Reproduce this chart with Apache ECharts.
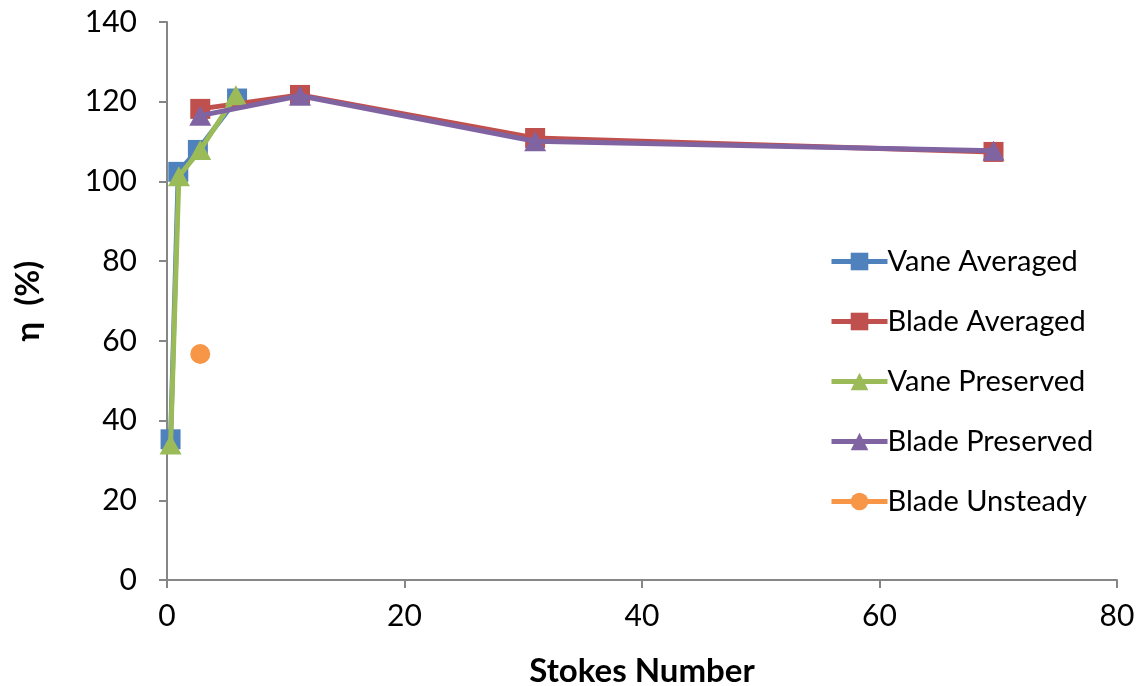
<!DOCTYPE html>
<html><head><meta charset="utf-8">
<script src="https://cdn.jsdelivr.net/npm/echarts@6/dist/echarts.min.js"></script>
<style>html,body{margin:0;padding:0;background:#fff}#c{width:1139px;height:686px}</style>
</head><body><div id="c"></div>
<script>
const seriesNames = ['Vane Averaged','Blade Averaged','Vane Preserved','Blade Preserved','Blade Unsteady'];
const vaneAveraged = [[0.3,35.3],[0.95,102.4],[2.6,107.9],[5.9,120.8]];
const bladeAveraged = [[2.8,118.2],[11.2,121.7],[31.0,110.9],[69.6,107.4]];
const vanePreserved = [[0.3,34.0],[1.0,101.3],[2.8,107.9],[5.8,121.6]];
const bladePreserved = [[2.8,116.5],[11.2,121.5],[31.0,110.1],[69.6,107.7]];
const bladeUnsteady = [[2.8,56.7]];
const colors = ['#4F81BD','#C0504D','#9BBB59','#8064A2','#F79646'];
const symbols = ['rect','rect','triangle','triangle','circle'];
const datasets = [vaneAveraged,bladeAveraged,vanePreserved,bladePreserved,bladeUnsteady];
const font = 'Lato, "Open Sans", sans-serif';
const chart = echarts.init(document.getElementById('c'));
chart.setOption({
  animation:false,
  backgroundColor:'#fff',
  color: colors,
  grid:{left:167,right:22,top:22,bottom:106,outerBoundsMode:'none',containLabel:false},
  legend:{
    orient:'vertical', left:824, top:242, itemGap:31, itemWidth:56, itemHeight:22,
    textStyle:{fontFamily:font,fontSize:29,color:'#000',padding:[0,0,0,-5]},
    lineStyle:{width:5},
    data: seriesNames
  },
  xAxis:{
    type:'value', min:0, max:80, interval:20,
    name:'Stokes Number', nameLocation:'middle', nameGap:75,
    nameTextStyle:{fontFamily:font,fontSize:33,fontWeight:'bold',color:'#000'},
    axisLine:{show:true,onZero:false,lineStyle:{color:'#868686',width:2}},
    axisTick:{show:true,length:8,lineStyle:{color:'#868686',width:2}},
    axisLabel:{fontFamily:font,fontSize:30,color:'#000',margin:21},
    splitLine:{show:false}
  },
  yAxis:{
    type:'value', min:0, max:140, interval:20,
    name:'η  (%)', nameLocation:'middle', nameGap:122, nameRotate:90,
    nameTextStyle:{fontFamily:font,fontSize:33,fontWeight:'bold',color:'#000'},
    axisLine:{show:true,lineStyle:{color:'#868686',width:2}},
    axisTick:{show:true,length:8,lineStyle:{color:'#868686',width:2}},
    axisLabel:{fontFamily:font,fontSize:30,color:'#000',margin:30},
    splitLine:{show:false}
  },
  series: datasets.map((d,i)=>({
    name: seriesNames[i], type:'line', data:d,
    symbol: symbols[i], symbolSize: symbols[i]==='triangle'?[22,20]:20,
    lineStyle:{width:5,color:colors[i]},
    itemStyle:{color:colors[i]},
    z: 2+i
  }))
});
</script></body></html>
